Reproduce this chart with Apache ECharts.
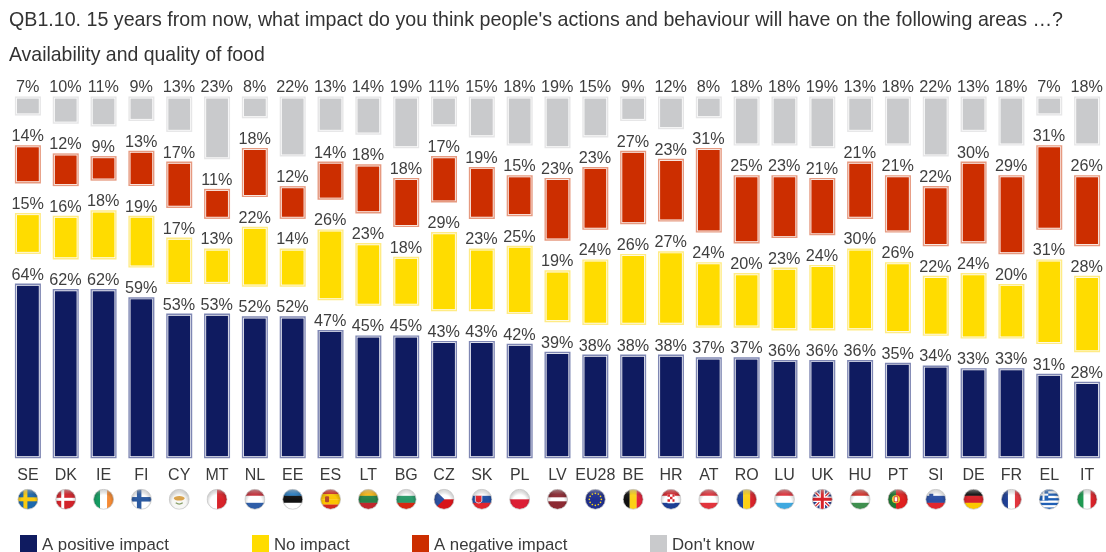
<!DOCTYPE html>
<html><head><meta charset="utf-8">
<style>html,body{margin:0;padding:0;background:#fff}#c{width:1106px;height:552px}</style>
<script src="https://cdn.jsdelivr.net/npm/echarts@6/dist/echarts.min.js"></script>
</head><body><div id="c"></div>
<script>
var categories = ['SE','DK','IE','FI','CY','MT','NL','EE','ES','LT','BG','CZ','SK','PL','LV','EU28','BE','HR','AT','RO','LU','UK','HU','PT','SI','DE','FR','EL','IT'];
var positive = [64,62,62,59,53,53,52,52,47,45,45,43,43,42,39,38,38,38,37,37,36,36,36,35,34,33,33,31,28];
var noImpact = [15,16,18,19,17,13,22,14,26,23,18,29,23,25,19,24,26,27,24,20,23,24,30,26,22,24,20,31,28];
var negative = [14,12,9,13,17,11,18,12,14,18,18,17,19,15,23,23,27,23,31,25,23,21,21,21,22,30,29,31,26];
var dontKnow = [7,10,11,9,13,23,8,22,13,14,19,11,15,18,19,15,9,12,8,18,18,19,13,18,22,13,18,7,18];
var seriesNames = ['A positive impact','No impact','A negative impact',"Don't know"];
var gapBetweenStacks = 10.85;

var fills = ['#0f1b60','#ffdc00','#cc2e00','#c9cacc'];
var rings = ['#7f87b3','#ffeb85','#e69a80','#e6e6e7'];
var font = '16.2px "Liberation Sans", Arial, sans-serif';

/* ---------- flags ---------- */
function H(c){var n=c.length,s='';c.forEach(function(k,i){s+='<rect x="0" y="'+(42*i/n)+'" width="42" height="'+(42/n+.3)+'" fill="'+k+'"/>';});return s;}
function V(c){var n=c.length,s='';c.forEach(function(k,i){s+='<rect y="0" x="'+(42*i/n)+'" height="42" width="'+(42/n+.3)+'" fill="'+k+'"/>';});return s;}
function N(b,c,w){return '<rect width="42" height="42" fill="'+b+'"/><rect x="12" width="'+w+'" height="42" fill="'+c+'"/><rect y="'+(21-w/2)+'" width="42" height="'+w+'" fill="'+c+'"/>';}
function euStars(){var s='<rect width="42" height="42" fill="#1f2f8f"/>';for(var i=0;i<12;i++){var a=i*Math.PI/6;s+='<circle cx="'+(21+12*Math.cos(a))+'" cy="'+(21+12*Math.sin(a))+'" r="1.7" fill="#f7d417"/>';}return s;}
var flagArt = {
 SE:N('#1d69ad','#fbcb10',8), DK:N('#d2232a','#ffffff',6), FI:N('#ffffff','#2c5aa0',9),
 IE:V(['#169b62','#ffffff','#f58a33']),
 CY:'<rect width="42" height="42" fill="#f7f7f5"/><ellipse cx="21" cy="19" rx="11" ry="4.5" fill="#d9a24b"/><path d="M14 28q7 5 14 0" stroke="#8aa06a" stroke-width="2.5" fill="none"/>',
 MT:V(['#ffffff','#d8232a']), NL:H(['#c8323c','#ffffff','#2f5ea8']), EE:H(['#2a7fc4','#111111','#ffffff']),
 ES:H(['#d32a1e','#fbc400','#fbc400','#d32a1e'])+'<rect x="10" y="15" width="8" height="12" rx="2" fill="#b5482a"/>',
 LT:H(['#fdb913','#27834a','#c1272d']), BG:H(['#ffffff','#2a9a6a','#d62612']),
 CZ:H(['#ffffff','#d7141a'])+'<path d="M0 0L22 21L0 42Z" fill="#2b4f9e"/>',
 SK:H(['#ffffff','#1f4fa3','#e0262e'])+'<path d="M8 13h13v12q-6 7-13 0z" fill="#e0262e" stroke="#fff" stroke-width="1.5"/>',
 PL:H(['#ffffff','#dc1f35']), LV:'<rect width="42" height="42" fill="#8c2a33"/><rect y="17" width="42" height="8" fill="#fff"/>',
 EU28:euStars(), BE:V(['#111111','#fcd116','#e3243a']),
 HR:H(['#d8232a','#ffffff','#1d3f94'])+'<rect x="14" y="11" width="14" height="18" fill="#fff"/><path d="M14 11h5v5h-5zM24 11h4v5h-4zM19 16h5v5h-5zM14 21h5v5h-5zM24 21h4v5h-4z" fill="#d8232a"/>',
 AT:H(['#e2343d','#ffffff','#e2343d']), RO:V(['#1b3f9c','#fcd116','#d8232a']), LU:H(['#e2343d','#ffffff','#3fa9e0']),
 UK:'<rect width="42" height="42" fill="#2b3f8c"/><path d="M0 0L42 42M42 0L0 42" stroke="#fff" stroke-width="7"/><path d="M0 0L42 42M42 0L0 42" stroke="#d8232a" stroke-width="2.5"/><path d="M21 0V42M0 21H42" stroke="#fff" stroke-width="11"/><path d="M21 0V42M0 21H42" stroke="#d8232a" stroke-width="6"/>',
 HU:H(['#d8342e','#ffffff','#3f8f4f']),
 PT:'<rect width="42" height="42" fill="#e0201f"/><rect width="17" height="42" fill="#1f7a35"/><circle cx="17" cy="21" r="8" fill="#f3d23a"/><rect x="13.5" y="16" width="7" height="10" fill="#fff" stroke="#d8232a" stroke-width="1.5"/>',
 SI:H(['#ffffff','#2b4fa3','#e0262e'])+'<path d="M8 10h8v7q-4 4-8 0z" fill="#2b4fa3"/>',
 DE:H(['#111111','#d8232a','#fbc900']), FR:V(['#1f3f94','#ffffff','#e2343d']),
 EL:(function(){var s='<rect width="42" height="42" fill="#fff"/>';for(var i=0;i<5;i++)s+='<rect y="'+(i*9.33)+'" width="42" height="4.67" fill="#1f5fb5"/>';return s+'<rect width="19" height="23.3" fill="#1f5fb5"/><rect x="7.5" width="4" height="23.3" fill="#fff"/><rect y="9.6" width="19" height="4" fill="#fff"/>';})(),
 IT:V(['#1f9a52','#ffffff','#d8232a'])
};
function flagUri(code){
 var svg='<svg xmlns="http://www.w3.org/2000/svg" width="84" height="84" viewBox="0 0 42 42"><defs><clipPath id="k"><circle cx="21" cy="21" r="20"/></clipPath>'+
 '<radialGradient id="g" cx="50%" cy="62%" r="62%"><stop offset="0.55" stop-color="#000" stop-opacity="0"/><stop offset="1" stop-color="#000" stop-opacity="0.28"/></radialGradient>'+
 '<linearGradient id="s" x1="0" y1="0" x2="0" y2="1"><stop offset="0" stop-color="#fff" stop-opacity="0.45"/><stop offset="0.5" stop-color="#fff" stop-opacity="0.05"/><stop offset="1" stop-color="#fff" stop-opacity="0"/></linearGradient></defs>'+
 '<g clip-path="url(#k)">'+flagArt[code]+'<circle cx="21" cy="21" r="20" fill="url(#g)"/><rect width="42" height="22" fill="url(#s)"/></g>'+
 '<circle cx="21" cy="21" r="20" fill="none" stroke="#c4c4c4" stroke-width="1.6"/></svg>';
 return 'data:image/svg+xml;charset=utf-8,'+encodeURIComponent(svg);
}
var rich = {n:{fontSize:16,fontFamily:'"Liberation Sans", Arial, sans-serif',color:'#3a3a3a',lineHeight:23,align:'center'}};
categories.forEach(function(c){rich['f'+c]={width:21,height:21,lineHeight:24,align:'center',backgroundColor:{image:flagUri(c)}};});

/* ---------- stacked marks ---------- */
var valueSets = [positive,noImpact,negative,dontKnow];
var running = categories.map(function(){return 0;});
var series = valueSets.map(function(vals,si){
  var data = vals.map(function(v,i){
    var base = running[i];
    running[i] = base + v + gapBetweenStacks;
    return [i, base, base + v, v];
  });
  return {
    type:'custom', name:seriesNames[si], data:data,
    encode:{x:0,y:[1,2]},
    itemStyle:{color:fills[si]},
    clip:false,
    renderItem:function(params,api){
      var idx=api.value(0), p0=api.coord([idx,api.value(1)]), p1=api.coord([idx,api.value(2)]);
      var w=26, x=p0[0]-w/2, y=p1[1], h=p0[1]-p1[1];
      function r(inset,color){return {type:'rect',shape:{x:x+inset,y:y+inset,width:w-2*inset,height:h-2*inset},style:{fill:color}};}
      return {type:'group',children:[
        r(0,rings[si]), r(1.4,'#ffffff'), r(2.1,fills[si]),
        {type:'text',style:{text:api.value(3)+'%',x:p0[0]-0.3,y:y-0.5,align:'center',verticalAlign:'bottom',font:font,fill:'#3f3f3f'}}
      ]};
    }
  };
});

var legendX = [20,252,412,650];
var fam = '"Liberation Sans", Arial, sans-serif';
var option = {
  animation:false,
  backgroundColor:'#fff',
  title:[
    {text:"QB1.10. 15 years from now, what impact do you think people's actions and behaviour will have on the following areas \u2026?",left:9,top:11,padding:0,textStyle:{fontSize:19.65,fontWeight:'normal',color:'#333',fontFamily:fam}},
    {text:'Availability and quality of food',left:9,top:46,padding:0,textStyle:{fontSize:19.45,fontWeight:'normal',color:'#333',fontFamily:fam}}
  ],
  grid:{left:9,top:48.8,width:1098,height:409.5,containLabel:false},
  xAxis:{type:'category',data:categories,axisLine:{show:false},axisTick:{show:false},
    axisLabel:{interval:0,margin:6,hideOverlap:false,formatter:function(v){return '{n|'+v+'}\n{f'+v+'|}';},rich:rich}},
  yAxis:{type:'value',min:0,max:150,show:false},
  legend:seriesNames.map(function(n,i){return {data:[n],left:legendX[i],top:535,padding:0,icon:'rect',itemWidth:17,itemHeight:17,selectedMode:false,
    formatter:function(name){return '{t|'+name+'}';},
    textStyle:{rich:{t:{fontSize:16.8,color:'#3a3a3a',padding:[4,0,0,0],fontFamily:fam}}}};}),
  series:series
};
var chart = echarts.init(document.getElementById('c'),null,{renderer:'canvas'});
chart.setOption(option);
</script></body></html>
